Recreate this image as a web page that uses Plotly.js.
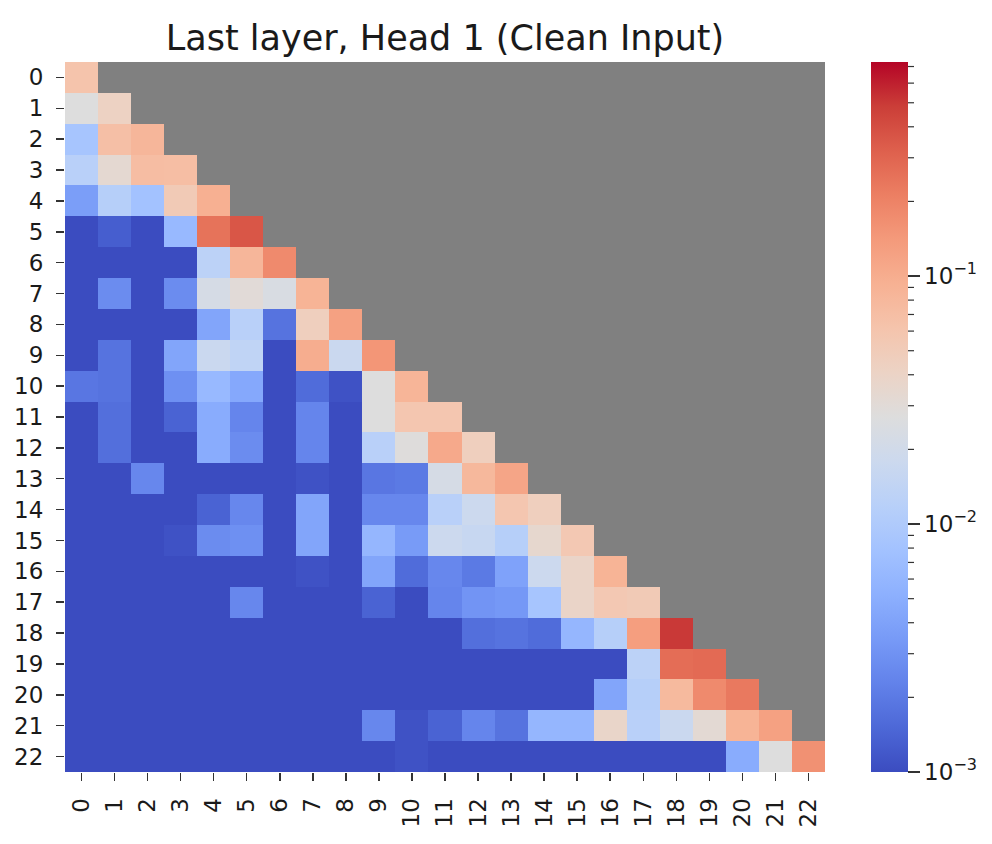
<!DOCTYPE html>
<html>
<head>
<meta charset="utf-8">
<script src="https://cdn.plot.ly/plotly-3.0.1.min.js"></script>
<style>
  html, body { margin: 0; padding: 0; background: #fff; }
  #chart { width: 992px; height: 844px; }
</style>
</head>
<body>
<div id="chart"></div>
<script>
// attention weights, lower triangle only (row = query, col = key)
const d = 0.0005; // below the colour floor
const tokens = [...Array(23).keys()].map(String);
const rows = [
  [0.062],
  [0.027, 0.042],
  [0.0085, 0.068, 0.083],
  [0.012, 0.033, 0.072, 0.07],
  [0.0037, 0.0115, 0.0078, 0.052, 0.095],
  [d, 0.0013, d, 0.0064, 0.25, 0.36],
  [d, d, d, d, 0.013, 0.083, 0.18],
  [d, 0.0027, d, 0.0027, 0.022, 0.03, 0.024, 0.088],
  [d, d, d, d, 0.0042, 0.012, 0.0018, 0.046, 0.125],
  [d, 0.0018, d, 0.0042, 0.017, 0.014, d, 0.1, 0.017, 0.15],
  [0.0019, 0.0018, d, 0.0029, 0.0064, 0.0045, d, 0.0016, 0.0011, 0.027, 0.085],
  [d, 0.0017, d, 0.0014, 0.0048, 0.0024, d, 0.0024, d, 0.027, 0.058, 0.058],
  [d, 0.0017, d, d, 0.0048, 0.0027, d, 0.0024, d, 0.012, 0.028, 0.107, 0.046],
  [d, d, 0.0025, d, d, d, d, 0.0011, d, 0.0019, 0.002, 0.022, 0.08, 0.115],
  [d, d, d, d, 0.0014, 0.0025, d, 0.0042, d, 0.0025, 0.0025, 0.012, 0.018, 0.058, 0.046],
  [d, d, d, 0.0011, 0.0027, 0.0029, d, 0.0042, d, 0.006, 0.0035, 0.018, 0.016, 0.0115, 0.035, 0.055],
  [d, d, d, d, d, d, d, 0.0011, d, 0.0042, 0.0016, 0.0025, 0.002, 0.004, 0.018, 0.039, 0.088],
  [d, d, d, d, d, 0.0025, d, d, d, 0.0014, d, 0.0024, 0.0031, 0.0033, 0.0085, 0.039, 0.055, 0.052],
  [d, d, d, d, d, d, d, d, d, d, d, d, 0.0017, 0.0018, 0.0016, 0.006, 0.0115, 0.13, 0.5],
  [d, d, d, d, d, d, d, d, d, d, d, d, d, d, d, d, d, 0.013, 0.27, 0.28],
  [d, d, d, d, d, d, d, d, d, d, d, d, d, d, d, d, 0.0042, 0.0115, 0.077, 0.18, 0.23],
  [d, d, d, d, d, d, d, d, d, 0.0025, 0.0011, 0.0014, 0.0024, 0.0018, 0.006, 0.006, 0.038, 0.012, 0.017, 0.032, 0.088, 0.125],
  [d, d, d, d, d, d, d, d, d, d, 0.0011, d, d, d, d, d, d, d, d, d, 0.0048, 0.027, 0.16]
];
const vmin = 0.001, vmax = 0.73;

// coolwarm
const coolwarm = [
  [0.0, "rgb(59,76,192)"], [0.0625, "rgb(77,104,215)"], [0.125, "rgb(98,130,234)"],
  [0.1875, "rgb(119,154,247)"], [0.25, "rgb(141,176,254)"], [0.3125, "rgb(163,194,255)"],
  [0.375, "rgb(184,208,249)"], [0.4375, "rgb(204,217,238)"], [0.5, "rgb(221,221,221)"],
  [0.5625, "rgb(236,211,197)"], [0.625, "rgb(245,196,172)"], [0.6875, "rgb(247,177,147)"],
  [0.75, "rgb(244,154,123)"], [0.8125, "rgb(236,127,99)"], [0.875, "rgb(222,96,77)"],
  [0.9375, "rgb(203,62,56)"], [1.0, "rgb(180,4,38)"]
];

const n = tokens.length;
const z = [];
for (let r = 0; r < n; r++) {
  const row = [];
  for (let c = 0; c < n; c++) row.push(c <= r ? Math.log10(rows[r][c]) : null);
  z.push(row);
}

const zmin = Math.log10(vmin), zmax = Math.log10(vmax);
const plotW = 760;
const cbX = (871 - 65) / plotW, cbThick = 37;

// minor ticks on the colorbar
const shapes = [];
for (let e = -3; e <= -1; e++) {
  for (let m = 2; m <= 9; m++) {
    const lv = Math.log10(m * Math.pow(10, e));
    if (lv > zmax) continue;
    const yy = (lv - zmin) / (zmax - zmin);
    shapes.push({
      type: "line", xref: "paper", yref: "paper", xsizemode: "pixel",
      xanchor: cbX + cbThick / plotW, x0: 0, x1: 6, y0: yy, y1: yy,
      line: { color: "#333", width: 1.2 }
    });
  }
}

const trace = {
  type: "heatmap",
  x: tokens.map(Number),
  y: tokens.map(Number),
  z: z,
  zmin: zmin,
  zmax: zmax,
  colorscale: coolwarm,
  hoverinfo: "skip",
  colorbar: {
    x: cbX, xanchor: "left", xpad: 0, ypad: 0,
    y: 0.5, yanchor: "middle", len: 1, lenmode: "fraction",
    thickness: cbThick, outlinewidth: 0,
    tickvals: [-3, -2, -1],
    ticktext: ["10<sup>\u22123</sup>", "10<sup>\u22122</sup>", "10<sup>\u22121</sup>"],
    ticks: "outside", ticklen: 12, tickwidth: 1.5, tickcolor: "#333",
    tickfont: { family: "DejaVu Sans", size: 23, color: "#1a1a1a" }
  }
};

const layout = {
  width: 992,
  height: 844,
  margin: { l: 65, r: 167, t: 62, b: 72 },
  paper_bgcolor: "#fff",
  plot_bgcolor: "#808080",
  font: { family: "DejaVu Sans", color: "#1a1a1a" },
  title: {
    text: "Last layer, Head 1 (Clean Input)",
    font: { family: "DejaVu Sans", size: 35, color: "#1a1a1a" },
    xref: "paper", x: 0.5, xanchor: "center",
    yref: "container", y: 0.955, yanchor: "middle"
  },
  xaxis: {
    range: [-0.5, n - 0.5],
    tickvals: tokens.map(Number), ticktext: tokens,
    tickangle: -90, ticks: "outside", ticklen: 8, tickwidth: 1.5, tickcolor: "#333",
    tickfont: { size: 23 }, showgrid: false, zeroline: false, showline: false,
    ticklabelstandoff: 8
  },
  yaxis: {
    range: [n - 0.5, -0.5],
    tickvals: tokens.map(Number), ticktext: tokens,
    ticks: "outside", ticklen: 8, tickwidth: 1.5, tickcolor: "#333",
    tickfont: { size: 23 }, showgrid: false, zeroline: false, showline: false,
    ticklabelstandoff: 8
  },
  shapes: shapes
};

Plotly.newPlot("chart", [trace], layout, { displayModeBar: false, staticPlot: true });
</script>
</body>
</html>
